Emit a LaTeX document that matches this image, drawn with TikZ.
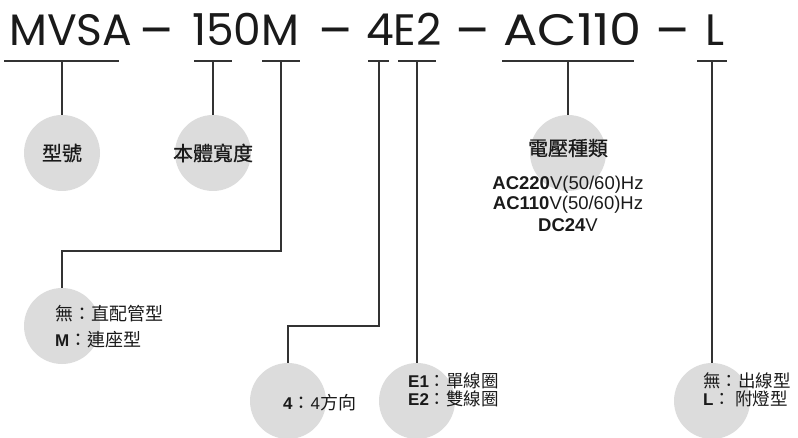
\documentclass[tikz,border=0pt]{standalone}
\usepackage{fontspec}
\setmainfont{Liberation Sans}
\newfontfamily\topfont{Poppins}
\newfontfamily\cjk{Noto Sans CJK TC}
\newfontfamily\cjkm[FakeBold=0.6]{Noto Sans CJK TC}
\definecolor{cgray}{HTML}{DCDCDC}
\definecolor{lc}{HTML}{333333}
\definecolor{tc}{HTML}{1A1A1A}
\tikzset{
  circ/.style={circle, fill=cgray, minimum size=76pt, inner sep=0pt},
  ln/.style={line width=1.1pt, draw=lc},
  toptxt/.style={anchor=base west, inner sep=0pt, font=\topfont\fontsize{44}{44}\selectfont, text=tc},
  dashtxt/.style={anchor=base, inner sep=0pt, font=\topfont\fontsize{44}{44}\selectfont, text=tc},
  bigcjk/.style={inner sep=0pt, font=\cjkm\fontsize{20}{20}\selectfont, text=tc},
  opt/.style={anchor=west, inner sep=0pt, font=\fontsize{17}{17}\selectfont, text=tc},
  optsm/.style={anchor=west, inner sep=0pt, font=\fontsize{17}{17}\selectfont, text=tc},
  volt/.style={inner sep=0pt, font=\fontsize{18.5}{18.5}\selectfont, text=tc}
}
\newcommand{\cj}[1]{{\cjk\fontsize{18}{18}\selectfont #1}}
\newcommand{\cjs}[1]{{\cjk\fontsize{17.5}{17.5}\selectfont #1}}
\newcommand{\dsh}{\raisebox{-3pt}{\scalebox{1.15}[1.15]{–}}}
\begin{document}
\begin{tikzpicture}[x=1pt,y=-1pt]
\useasboundingbox (0,0) rectangle (798,438);
% circles
\node[circ] (c1) at (62,153) {};
\node[circ] (c2) at (213,153) {};
\node[circ] (c6) at (568,153) {};
\node[circ] (c3) at (62,326) {};
\node[circ] (c4) at (288,401) {};
\node[circ] (c5) at (417,401) {};
\node[circ] (c7) at (712,401) {};
% top code
\node[toptxt] (t1) at (9,46) {MVSA};
\node[dashtxt] (d1) at (157,46) {\dsh};
\node[toptxt] (t2) at (192,46) {150M};
\node[dashtxt] (d2) at (335.5,46) {\dsh};
\node[toptxt] (t3) at (366,46) {4E2};
\node[dashtxt] (d3) at (472.5,46) {\dsh};
\node[toptxt] (t4) at (503,46) {\scalebox{1.16}[1]{AC110}};
\node[dashtxt] (d4) at (672.5,46) {\dsh};
\node[toptxt] (t5) at (705,46) {L};
% underlines
\draw[ln] (4,61) -- (119,61);
\draw[ln] (194,61) -- (232,61);
\draw[ln] (262,61) -- (300,61);
\draw[ln] (368,61) -- (389,61);
\draw[ln] (398,61) -- (436,61);
\draw[ln] (502,61) -- (634,61);
\draw[ln] (697,61) -- (727,61);
\coordinate (u1) at (62,61);
\coordinate (u2) at (213,61);
\coordinate (u3) at (281,61);
\coordinate (u4) at (379,61);
\coordinate (u5) at (417,61);
\coordinate (u6) at (568,61);
\coordinate (u7) at (712,61);
\coordinate (b3) at (62,251);
\coordinate (b4) at (288,326);
% connectors
\draw[ln] (u1) -- (c1.north);
\draw[ln] (u2) -- (c2.north);
\draw[ln] (u3) |- (b3) -- (c3.north);
\draw[ln] (u4) |- (b4) -- (c4.north);
\draw[ln] (u5) -- (c5.north);
\draw[ln] (u6) -- (c6.north);
\draw[ln] (u7) -- (c7.north);
% circle labels
\node[bigcjk] (l1) at (62,153) {型號};
\node[bigcjk] (l2) at (213,153) {本體寬度};
\node[bigcjk] (l6) at (568,148) {電壓種類};
\node[volt] (v1) at (568,185) {\textbf{AC220}V(50/60)Hz};
\node[volt] (v2) at (568,205) {\textbf{AC110}V(50/60)Hz};
\node[volt] (v3) at (568,225) {\textbf{DC24}V};
% option labels
\node[opt] (o1) at (55,314) {\cj{無：直配管型}};
\node[opt] (o2) at (55,340) {\textbf{M}\cj{：連座型}};
\node[opt] (o3) at (283,403) {\textbf{4}\cj{：}4\cj{方向}};
\node[optsm] (o4) at (408,381) {\textbf{E1}\cjs{：單線圈}};
\node[optsm] (o5) at (408,399) {\textbf{E2}\cjs{：雙線圈}};
\node[optsm] (o6) at (703,381) {\cjs{無：出線型}};
\node[optsm] (o7) at (703,399) {\textbf{L}\cjs{：}\hspace{4pt}\cjs{附燈型}};
\end{tikzpicture}
\end{document}
